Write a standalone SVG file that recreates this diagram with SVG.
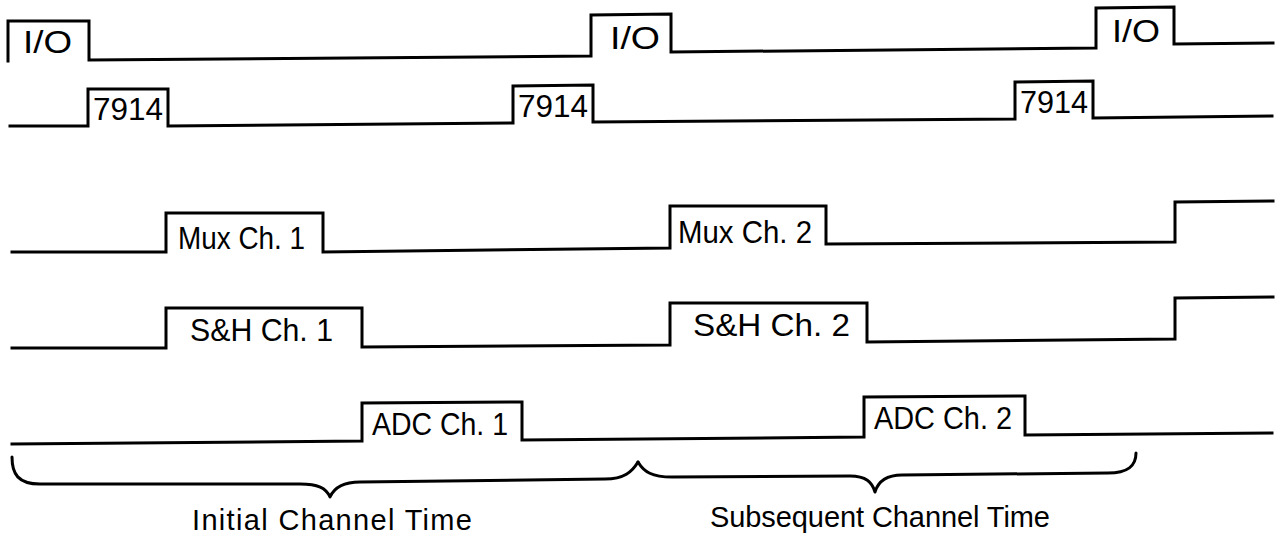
<svg xmlns="http://www.w3.org/2000/svg" width="1282" height="538" viewBox="0 0 1282 538">
<style>
.w{fill:none;stroke:#000;stroke-width:3;stroke-linejoin:miter;stroke-linecap:square}
.b{fill:none;stroke:#000;stroke-width:3;stroke-linecap:round;stroke-linejoin:round}
.t{font-family:"Liberation Sans",Arial,sans-serif;font-size:31px;fill:#000}
.c{font-family:"Liberation Sans",Arial,sans-serif;font-size:29px;fill:#000}
</style>
<rect width="1282" height="538" fill="#fff"/>
<g id="io">
<path class="w" d="M8,61 V21 H89 V60 L591,56 V15 L671,14 V52 L1096,48 V8 L1174,7 V44 L1273,43"/>
<text class="t" x="23" y="53" textLength="49" lengthAdjust="spacingAndGlyphs">I/O</text>
<text class="t" x="610" y="49" textLength="50" lengthAdjust="spacingAndGlyphs">I/O</text>
<text class="t" x="1112" y="42" textLength="48" lengthAdjust="spacingAndGlyphs">I/O</text>
</g>
<g id="r7914">
<path class="w" d="M10,126 H88 V89 H168 V126 L513,123 V86 L593,85 V122 L1015,119 V82 L1093,81 V118 L1272,116"/>
<text class="t" x="93" y="120" textLength="70" lengthAdjust="spacingAndGlyphs">7914</text>
<text class="t" x="518" y="117" textLength="70" lengthAdjust="spacingAndGlyphs">7914</text>
<text class="t" x="1020" y="113" textLength="68" lengthAdjust="spacingAndGlyphs">7914</text>
</g>
<g id="mux">
<path class="w" d="M12,252 H166 V213 H323 V252 L670,248 V206 H826 V244 L1175,242 V202 L1273,201"/>
<text class="t" x="178" y="249" textLength="127" lengthAdjust="spacingAndGlyphs">Mux Ch. 1</text>
<text class="t" x="678" y="243" textLength="134" lengthAdjust="spacingAndGlyphs">Mux Ch. 2</text>
</g>
<g id="sh">
<path class="w" d="M12,348 H166 V308 H362 V347 L670,345 V303 H867 V342 L1175,339 V298 L1273,297"/>
<text class="t" x="190" y="341" textLength="143" lengthAdjust="spacingAndGlyphs">S&amp;H Ch. 1</text>
<text class="t" x="693" y="336" textLength="157" lengthAdjust="spacingAndGlyphs">S&amp;H Ch. 2</text>
</g>
<g id="adc">
<path class="w" d="M12,444 L362,441 V403 L522,402 V440 L864,437 V397 L1025,396 V435 L1272,433"/>
<text class="t" x="372" y="435" textLength="136" lengthAdjust="spacingAndGlyphs">ADC Ch. 1</text>
<text class="t" x="874" y="429" textLength="138" lengthAdjust="spacingAndGlyphs">ADC Ch. 2</text>
</g>
<g id="braces">
<path class="b" d="M12,457 C12,474 18,484 40,484 L300,484 C318,484 326,488 330,497 C334,488 342,482 360,482 L605,479 C624,479 632,472 638,462"/>
<path class="b" d="M638,462 C644,472 652,477 672,477 L850,476 C866,476 872,482 875,492 C878,482 886,475 902,475 L1108,473 C1128,473 1136,466 1136,453"/>
<text class="c" x="192" y="530" textLength="280" lengthAdjust="spacing">Initial Channel Time</text>
<text class="c" x="710" y="527" textLength="340" lengthAdjust="spacing">Subsequent Channel Time</text>
</g>
</svg>
